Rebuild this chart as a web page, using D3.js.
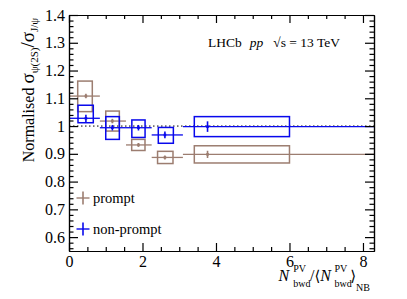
<!DOCTYPE html>
<html><head><meta charset="utf-8">
<script src="https://cdn.jsdelivr.net/npm/d3@7"></script>
<style>body{margin:0;background:#fff}svg{display:block}</style>
</head><body>
<script>
// ---- data ----
const binLo = [0, 0.84, 1.55, 2.25, 3.1];
const binHi = [0.84, 1.55, 2.25, 3.1, 8.3];
const xMean = [0.46, 1.18, 1.89, 2.61, 3.77];

const promptVal  = [1.108, 1.018, 0.932, 0.887, 0.898];
const promptStat = [0.008, 0.008, 0.007, 0.007, 0.013];
const promptBoxYLo = [1.052, 0.982, 0.912, 0.865, 0.867];
const promptBoxYHi = [1.162, 1.054, 0.952, 0.909, 0.929];
const promptBoxXLo = [0.237, 1.0, 1.706, 2.41, 3.41];
const promptBoxXHi = [0.634, 1.37, 2.068, 2.83, 6.0];

const nonpromptVal  = [1.028, 0.994, 0.994, 0.968, 0.998];
const nonpromptStat = [0.013, 0.010, 0.010, 0.012, 0.019];
const nonpromptBoxYLo = [1.012, 0.952, 0.959, 0.938, 0.962];
const nonpromptBoxYHi = [1.075, 1.034, 1.022, 0.995, 1.034];
const nonpromptBoxXLo = [0.245, 1.0, 1.71, 2.43, 3.41];
const nonpromptBoxXHi = [0.661, 1.37, 2.07, 2.84, 6.0];

const xMajor = [0, 2, 4, 6, 8];
const yMajor = [0.6, 0.7, 0.8, 0.9, 1.0, 1.1, 1.2, 1.3, 1.4];
const yLabels = ["0.6","0.7","0.8","0.9","1","1.1","1.2","1.3","1.4"];
const xLabels = ["0","2","4","6","8"];

// ---- layout ----
const W = 407, H = 299;
const L = 69, R = 374, T = 15, B = 251;
const brown = "#9c7d70", blue = "#0808ec";
const font = "'Liberation Serif', 'DejaVu Serif', serif";

const x = d3.scaleLinear().domain([0, 8.3]).range([L, R]);
const y = d3.scaleLinear().domain([0.55, 1.4]).range([B, T]);

const svg = d3.select("body").append("svg").attr("width", W).attr("height", H)
  .style("font-family", font);

const clip = svg.append("defs").append("clipPath").attr("id", "c");
clip.append("rect").attr("x", L).attr("y", T).attr("width", R - L).attr("height", B - T);

const plot = svg.append("g").attr("clip-path", "url(#c)");

// reference line at 1
plot.append("line").attr("x1", x(0)).attr("x2", x(8.3)).attr("y1", y(1)).attr("y2", y(1))
  .attr("stroke", "#000").attr("stroke-width", 1).attr("stroke-dasharray", "1.5,2.5");

function drawSeries(vals, stat, bxl, bxh, byl, byh, col) {
  const g = plot.append("g");
  vals.forEach((v, i) => {
    g.append("rect").attr("x", x(bxl[i])).attr("y", y(byh[i]))
      .attr("width", x(bxh[i]) - x(bxl[i])).attr("height", y(byl[i]) - y(byh[i]))
      .attr("fill", "none").attr("stroke", col).attr("stroke-width", 1.5);
    g.append("line").attr("x1", x(binLo[i])).attr("x2", x(binHi[i]))
      .attr("y1", y(v)).attr("y2", y(v)).attr("stroke", col).attr("stroke-width", 1.3);
    g.append("line").attr("x1", x(xMean[i])).attr("x2", x(xMean[i]))
      .attr("y1", y(v - stat[i])).attr("y2", y(v + stat[i])).attr("stroke", col).attr("stroke-width", 1.6);
    g.append("rect").attr("x", x(xMean[i]) - 1.3).attr("y", y(v) - 1.3)
      .attr("width", 2.6).attr("height", 2.6).attr("fill", col);
  });
}
drawSeries(promptVal, promptStat, promptBoxXLo, promptBoxXHi, promptBoxYLo, promptBoxYHi, brown);
drawSeries(nonpromptVal, nonpromptStat, nonpromptBoxXLo, nonpromptBoxXHi, nonpromptBoxYLo, nonpromptBoxYHi, blue);

// ---- axes ----
const yMinor = d3.range(0.56, 1.4001, 0.02).map(v => +v.toFixed(2)).filter(v => !yMajor.some(m => Math.abs(m - v) < 1e-6));
const xMinor = d3.range(0.5, 8.3, 0.5).filter(v => !xMajor.includes(v));

function styleAxis(g) {
  g.attr("font-family", font);
  g.selectAll("path,line").attr("stroke", "#000").attr("stroke-width", 1.2);
  g.selectAll("text").attr("font-family", font).attr("font-size", 16).attr("fill", "#000");
}

const gl = svg.append("g").attr("transform", `translate(${L},0)`)
  .call(d3.axisLeft(y).tickValues(yMajor).tickSize(-9).tickPadding(4).tickFormat((d, i) => yLabels[i]).tickSizeOuter(0));
styleAxis(gl);
const glm = svg.append("g").attr("transform", `translate(${L},0)`)
  .call(d3.axisLeft(y).tickValues(yMinor).tickSize(-4.5).tickFormat("").tickSizeOuter(0));
styleAxis(glm);
const gr = svg.append("g").attr("transform", `translate(${R},0)`)
  .call(d3.axisRight(y).tickValues(yMajor).tickSize(-9).tickFormat("").tickSizeOuter(0));
styleAxis(gr);
const grm = svg.append("g").attr("transform", `translate(${R},0)`)
  .call(d3.axisRight(y).tickValues(yMinor).tickSize(-4.5).tickFormat("").tickSizeOuter(0));
styleAxis(grm);

const gb = svg.append("g").attr("transform", `translate(0,${B})`)
  .call(d3.axisBottom(x).tickValues(xMajor).tickSize(-8).tickPadding(4).tickFormat((d, i) => xLabels[i]).tickSizeOuter(0));
styleAxis(gb);
gb.selectAll("text").attr("dy", "0.75em");
const gbm = svg.append("g").attr("transform", `translate(0,${B})`)
  .call(d3.axisBottom(x).tickValues(xMinor).tickSize(-4).tickFormat("").tickSizeOuter(0));
styleAxis(gbm);
const gt = svg.append("g").attr("transform", `translate(0,${T})`)
  .call(d3.axisTop(x).tickValues(xMajor).tickSize(-8).tickFormat("").tickSizeOuter(0));
styleAxis(gt);
const gtm = svg.append("g").attr("transform", `translate(0,${T})`)
  .call(d3.axisTop(x).tickValues(xMinor).tickSize(-4).tickFormat("").tickSizeOuter(0));
styleAxis(gtm);

// ---- LHCb label ----
const lab = svg.append("text").attr("x", 208).attr("y", 47).attr("font-size", 13.5);
lab.append("tspan").text("LHCb");
lab.append("tspan").attr("dx", 8).attr("font-style", "italic").text("pp");
lab.append("tspan").attr("dx", 10).text("\u221As = 13 TeV");

// ---- legend ----
const legend = [{name: "prompt", col: brown, yy: 198}, {name: "non-prompt", col: blue, yy: 229}];
legend.forEach(d => {
  svg.append("line").attr("x1", 76.5).attr("x2", 89.5).attr("y1", d.yy).attr("y2", d.yy)
    .attr("stroke", d.col).attr("stroke-width", 1.4);
  svg.append("line").attr("x1", 83).attr("x2", 83).attr("y1", d.yy - 6.5).attr("y2", d.yy + 6.5)
    .attr("stroke", d.col).attr("stroke-width", 1.6);
  svg.append("text").attr("x", 93).attr("y", d.yy + 4.5).attr("font-size", 14.5).text(d.name);
});

// ---- y title ----
const yt = svg.append("text").attr("transform", "translate(34,90) rotate(-90)")
  .attr("text-anchor", "middle").attr("font-size", 16);
yt.append("tspan").text("Normalised ");
yt.append("tspan").attr("font-size", 19).text("\u03C3");
yt.append("tspan").attr("font-size", 11).attr("dy", 4).text("\u03C8(2S)");
yt.append("tspan").attr("font-size", 19).attr("dy", -4).text("/\u03C3");
yt.append("tspan").attr("font-size", 11).attr("dy", 4).text("J/\u03C8");

// ---- x title (laid out piece by piece, right aligned) ----
const xt = svg.append("g");
const pieces = [
  {t: "N", size: 16, italic: true, base: 280.5, gap: 4},
  {stack: [{t: "PV", size: 10, base: 272}, {t: "bwd", size: 10, base: 287}], gap: -0.5},
  {t: "/", size: 16, base: 280.5},
  {t: "\u27E8", size: 15, base: 280.5},
  {t: "N", size: 16, italic: true, base: 280.5, gap: 3.5},
  {stack: [{t: "PV", size: 10, base: 272}, {t: "bwd", size: 10, base: 287}], gap: -1.5},
  {t: "\u27E9", size: 15, base: 280.5},
  {t: "NB", size: 10, base: 290.5}
];
let cx = 0;
function mk(p, xx) {
  return xt.append("text").attr("x", xx).attr("y", p.base).attr("font-size", p.size)
    .attr("font-style", p.italic ? "italic" : "normal").text(p.t);
}
pieces.forEach(p => {
  if (p.stack) {
    let w = 0;
    p.stack.forEach(s => { const el = mk(s, cx); w = Math.max(w, el.node().getComputedTextLength()); });
    cx += w + (p.gap || 0);
  } else {
    const el = mk(p, cx);
    cx += el.node().getComputedTextLength() + (p.gap || 0);
  }
});
xt.attr("transform", `translate(${370 - cx},0)`);
</script>
</body></html>
